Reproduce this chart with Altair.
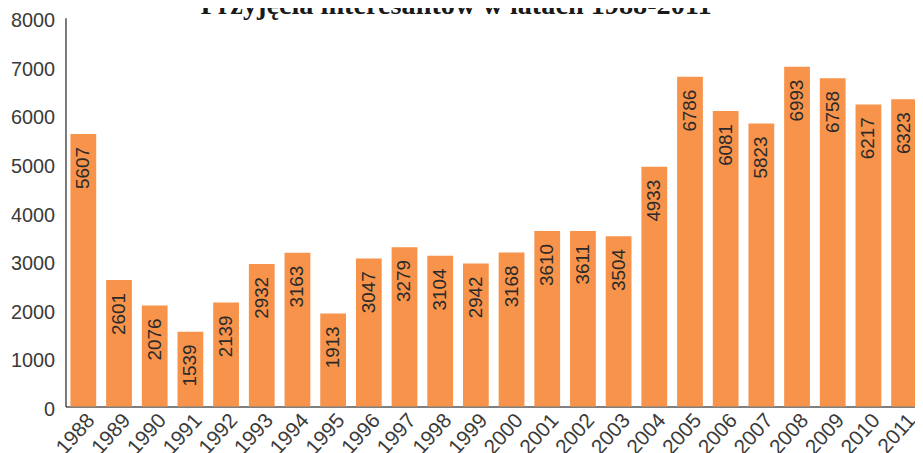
import altair as alt
import pandas as pd

years = [str(y) for y in range(1988, 2012)]
values = [5607, 2601, 2076, 1539, 2139, 2932, 3163, 1913, 3047, 3279, 3104, 2942,
          3168, 3610, 3611, 3504, 4933, 6786, 6081, 5823, 6993, 6758, 6217, 6323]
y_ticks = [0, 1000, 2000, 3000, 4000, 5000, 6000, 7000, 8000]
title_text = ["Przyjęcia interesantów w latach 1988-2011"]

df = pd.DataFrame({"rok": years, "liczba": values})
df_title = pd.DataFrame({"t": title_text})

FONT = "Liberation Sans"
BAR = "#F7934A"

x = alt.X("rok:N", sort=years,
          scale=alt.Scale(range=[0, 864], paddingInner=0.278, paddingOuter=0.139),
          axis=alt.Axis(title=None, labelAngle=-48, labelFontSize=21, labelFont=FONT,
                        labelColor="#3a3a3a", domainColor="#555555", domainWidth=1.5,
                        ticks=False, labelPadding=3, labelAlign="right",
                        labelBaseline="top"))
y = alt.Y("liczba:Q", scale=alt.Scale(domain=[0, 8000], nice=False),
          axis=alt.Axis(title=None, values=y_ticks, format="d", grid=False, ticks=False,
                        labelFontSize=20, labelFont=FONT, labelColor="#3a3a3a",
                        domainColor="#222222", domainWidth=1.2, labelPadding=11,
                        labelOffset=3))

bars = alt.Chart(df).mark_bar(color=BAR).encode(x=x, y=y)
labels = alt.Chart(df).mark_text(angle=270, align="right", baseline="middle", dx=-13,
                                 fontSize=19, font=FONT, color="#2a2a2a").encode(
    x=alt.X("rok:N", sort=years), y="liczba:Q", text="liczba:Q")

# chart title (cut off by the top edge, as in the reference)
title = alt.Chart(df_title).mark_text(font="Liberation Serif", fontSize=28.5, fontWeight="bold",
                                      color="#1a1a1a", align="center",
                                      baseline="alphabetic").encode(
    text="t:N", x=alt.value(394), y=alt.value(-4))

chart = alt.layer(bars, labels, title).properties(
    width=857, height=392,
    autosize=alt.AutoSizeParams(type="none"),
    padding={"left": 58, "top": 8, "right": 0, "bottom": 45},
).configure_view(stroke=None)

chart.save("out.html", embed_options={"renderer": "svg", "actions": False})
